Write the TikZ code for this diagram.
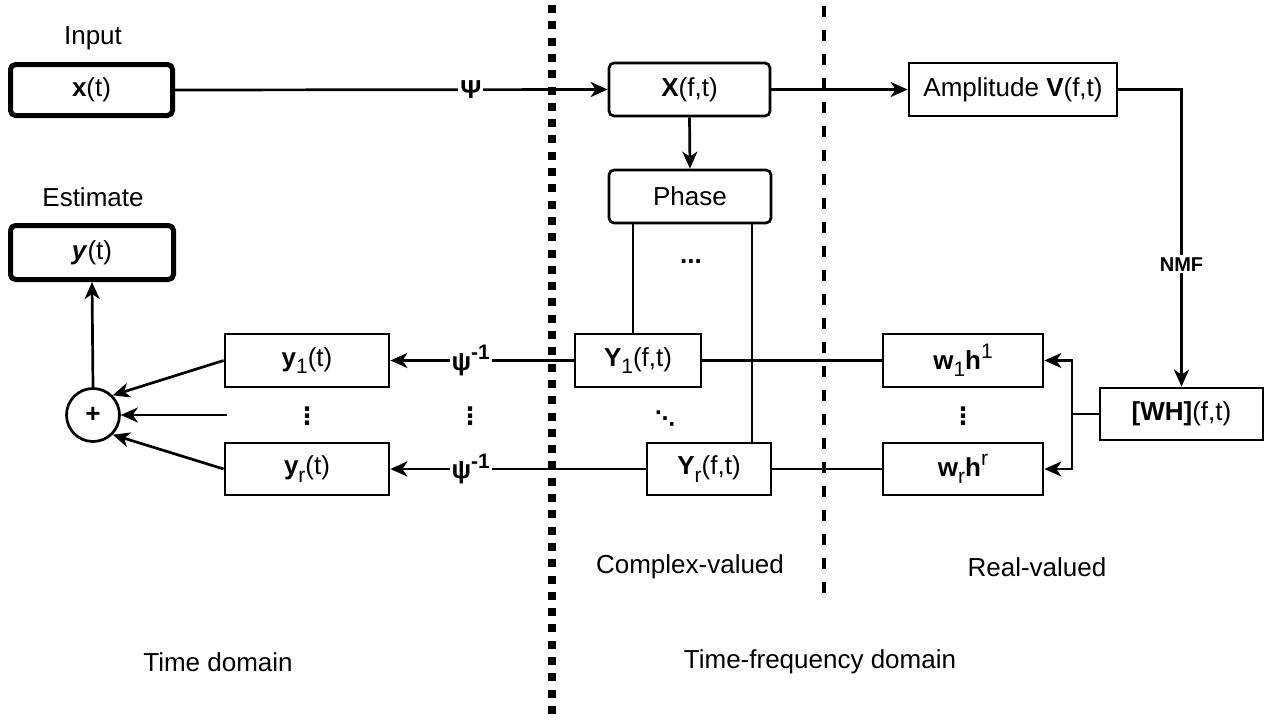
\documentclass[tikz,border=0pt]{standalone}
\usepackage{fontspec}
\setmainfont{Liberation Sans}
\newfontfamily\symfont{DejaVu Sans}
\usetikzlibrary{arrows.meta}
\newcommand{\lo}[1]{\raisebox{-0.28em}{\fontsize{21}{21}\selectfont #1}}
\newcommand{\hi}[1]{\raisebox{0.42em}{\fontsize{21}{21}\selectfont #1}}
\begin{document}
\begin{tikzpicture}[x=1pt,y=-1pt,
  every node/.style={font=\fontsize{26}{30}\selectfont, inner sep=0pt},
  box/.style={draw, line width=2.7pt, minimum height=53pt},
  rbox/.style={box, rounded corners=5pt},
  tbox/.style={draw, line width=5pt, rounded corners=5pt},
  ln/.style={line width=2.7pt},
  arr/.style={ln, -{Stealth[length=17pt,width=15pt,inset=5pt]}},
  lbl/.style={fill=white, inner sep=2pt},
  dots/.style={font=\fontsize{24}{24}\symfont\bfseries},
  plain/.style={}
  ]
\useasboundingbox (0,0) rectangle (1278,720);
% dividers
\draw[line width=8pt, dash pattern=on 8pt off 8.3pt] (552,5) -- (552,715);
\draw[line width=4pt, dash pattern=on 11pt off 13pt] (824,6) -- (824,605);
% texts
\node[plain] (tin) at (93,38) {Input};
\node[plain] (test) at (93,197) {Estimate};
\node[plain] (tcv) at (690,567) {Complex-valued};
\node[plain] (trv) at (1037,567) {Real-valued};
\node[plain] (ttd) at (218,662) {Time domain};
\node[plain] (ttf) at (820,662) {Time-frequency domain};
% boxes
\node[tbox, minimum width=162pt, minimum height=51pt] (x) at (91.5,90) {\textbf{x}(t)};
\node[tbox, minimum width=163pt, minimum height=54pt] (yest) at (92,252.5) {\textbf{\textit{y}}(t)};
\node[rbox, minimum width=161pt] (X) at (689.5,89.5) {\textbf{X}(f,t)};
\node[rbox, minimum width=162pt] (phase) at (690,196.5) {Phase};
\node[box, minimum width=208pt] (amp) at (1013,89.5) {Amplitude \textbf{V}(f,t)};
\node[box, minimum width=163pt, minimum height=52pt] (WH) at (1181.5,414) {\textbf{[WH]}(f,t)};
\node[box, minimum width=160pt] (w1) at (963,360.5) {\textbf{w}\lo{1}\textbf{h}\hi{1}};
\node[box, minimum width=160pt, minimum height=52pt] (wr) at (963,469) {\textbf{w}\lo{r}\textbf{h}\hi{r}};
\node[box, minimum width=126pt] (Y1) at (638,360.5) {\textbf{Y}\lo{1}(f,t)};
\node[box, minimum width=124pt, minimum height=52pt] (Yr) at (709,469) {\textbf{Y}\lo{r}(f,t)};
\node[box, minimum width=164pt] (y1) at (307,360.5) {\textbf{y}\lo{1}(t)};
\node[box, minimum width=164pt, minimum height=52pt] (yr) at (307,469) {\textbf{y}\lo{r}(t)};
\node[draw, circle, line width=2.7pt, minimum size=53pt] (plus) at (93,415) {\textbf{+}};
% dots
\node[dots] (d1) at (307,416) {⋮};
\node[dots] (d2) at (470,416) {⋮};
\node[dots] (d3) at (963,416) {⋮};
\node[font=\fontsize{20}{20}\symfont\bfseries] (d4) at (665,419) {⋱};
\node[plain] (d5) at (691,262) {\textbf{...}};
% coordinates
\coordinate (pL) at (633,0);
\coordinate (pR) at (752,0);
\coordinate (split) at (1072,414);
\coordinate (mid) at (227,415);
% connectors
\draw[arr] (x.east) -- (X.west) node[pos=0.684, lbl] {\textbf{Ψ}};
\draw[arr] (X.south) -- (phase.north);
\draw[arr] (X.east) -- (amp.west);
\draw[arr] (amp.east) -| (WH.north) node[pos=0.794, lbl, font=\fontsize{20}{24}\selectfont\bfseries] {NMF};
\draw[ln] (WH.west) -- (split);
\draw[arr] (split) |- (w1.east);
\draw[arr] (split) |- (wr.east);
\draw[ln] (Y1.east) -- (w1.west);
\draw[ln] (Yr.east) -- (wr.west);
\draw[ln] (phase.south -| pL) -- (Y1.north -| pL);
\draw[ln] (phase.south -| pR) -- (Yr.north -| pR);
\draw[arr] (Y1.west) -- (y1.east) node[pos=0.562, lbl] {\textbf{ψ\hi{-1}}};
\draw[arr] (Yr.west) -- (yr.east) node[pos=0.685, lbl] {\textbf{ψ\hi{-1}}};
\draw[arr] (y1.west) -- (plus.45);
\draw[arr] (mid) -- (plus.east);
\draw[arr] (yr.west) -- (plus.-45);
\draw[arr] (plus.north) -- (yest.south);
\end{tikzpicture}
\end{document}
